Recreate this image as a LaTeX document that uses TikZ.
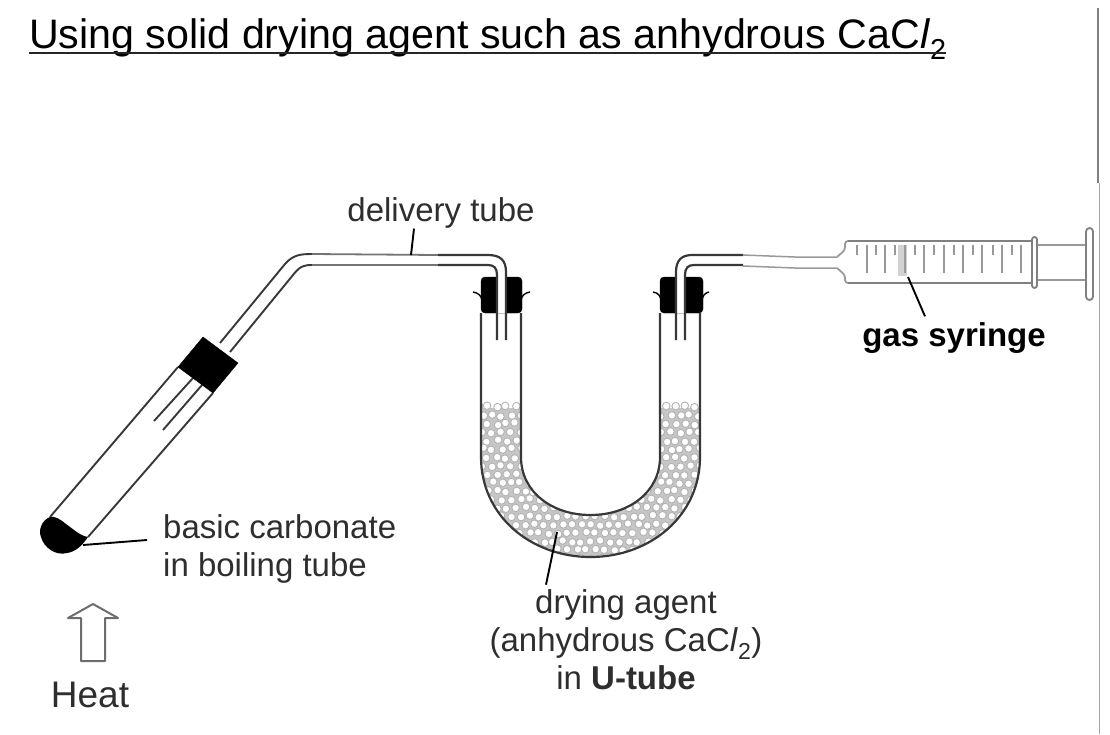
\documentclass[tikz,border=0pt]{standalone}
\usepackage{fontspec}
\setmainfont{Liberation Sans}
\definecolor{inkgray}{gray}{0.18}
\definecolor{wallgray}{gray}{0.22}
\definecolor{pale}{gray}{0.6}
\tikzset{
  glass/.style={draw=wallgray, line width=1.9pt},
  thinglass/.style={draw=pale, line width=1.5pt},
  plug/.style={fill=black, draw=black, line join=round},
  lip/.style={draw=black, line width=1.4pt},
  leader/.style={draw=black, line width=1.9pt},
  label/.style={font=\fontsize{33}{38}\selectfont, text=inkgray, inner sep=0pt, align=center},
  bead/.style={draw=gray!60, line width=0.9pt, fill=white},
}
\begin{document}
\begin{tikzpicture}[x=1pt,y=-1pt]
\useasboundingbox (0,0) rectangle (1110,734);
\node[font=\fontsize{41.2}{48}\selectfont, anchor=base west, inner sep=0pt] (title) at (29,48) {Using solid drying agent such as anhydrous CaC\textit{l}\textsubscript{2}};
\coordinate (titleL) at (29,52.5);
\coordinate (titleR) at (946,52.5);
\draw[black!85, line width=2pt] (titleL) -- (titleR);
\draw[gray, line width=2.5pt] (1098,8) -- (1098,183);
\draw[gray!70, line width=1pt] (1099,183) -- (1099,734);

% boiling tube
\draw[glass] (50,517) -- (178,367);
\draw[glass] (88,537) -- (213,393);
\draw[glass] (193,378) -- (154,421);
\draw[glass] (202,385) -- (163,430);
\fill[black] (50,517) .. controls (42,520) and (38,530) .. (41,537)
  .. controls (44,548) and (56,556) .. (67,553) .. controls (75,552) and (82,546) .. (88,537)
  .. controls (80,536) and (72,528) .. (66,524) .. controls (60,519) and (55,516) .. (50,517) -- cycle;
\fill[plug] (203,337) -- (238,363) -- (213,393) -- (178,367) -- cycle;

% delivery tube
\draw[glass] (220,343) -- (285,264) .. controls (293,255) and (300,254) .. (312,254);
\draw[glass] (230,352) -- (293,275) .. controls (300,266) and (304,265) .. (312,265);
\draw[wallgray!70!white, line width=1.8pt] (312,254) -- (438,255);
\draw[wallgray!70!white, line width=1.8pt] (312,265) -- (438,265);

% stoppers of the U-tube
\fill[plug, rounded corners=4pt] (481,277) rectangle (522,313);
\fill[plug, rounded corners=4pt] (660,277) rectangle (703,313);
\draw[lip] (473,292) .. controls (478,293) and (481,295) .. (482,300);
\draw[lip] (530,292) .. controls (525,293) and (522,295) .. (521,300);
\draw[lip] (653,292) .. controls (658,293) and (660,295) .. (661,300);
\draw[lip] (709,292) .. controls (705,293) and (703,295) .. (702,300);

% left and right ends of the delivery tube
\fill[white] (497,270) rectangle (506,313);
\fill[white] (676,270) rectangle (685,313);
\draw[glass, line width=2.2pt] (438,255) -- (488,255) .. controls (500,255) and (506,260) .. (506,272) -- (506,340);
\draw[glass, line width=2.2pt] (438,265) -- (488,265) .. controls (494,265) and (497,268) .. (497,275) -- (497,340);
\draw[glass, line width=2.2pt] (743,255) -- (692,255) .. controls (682,255) and (676,260) .. (676,272) -- (676,340);
\draw[glass, line width=2.2pt] (743,265) -- (694,265) .. controls (688,265) and (685,268) .. (685,275) -- (685,340);
\draw[thinglass] (743,255) -- (795,257) -- (837,257);
\draw[thinglass] (743,266) -- (795,268) -- (837,268);

% packing
\begin{scope}
\clip (481,398) -- (521,398) -- (521,457) .. controls (521,492) and (552,515) .. (590.5,515)
  .. controls (629,515) and (660,492) .. (660,457) -- (660,398) -- (700,398) -- (700,457)
  .. controls (700,516) and (650,557) .. (590.5,557) .. controls (531,557) and (481,516) .. (481,457) -- cycle;
\fill[gray!45] (470,408) rectangle (710,565);
\pgfmathsetseed{17}
\foreach \row in {0,...,18}{
  \foreach \col in {0,...,25}{
    \pgfmathsetmacro{\bx}{478+\col*9.4+mod(\row,2)*4.7+rand*1.3}
    \pgfmathsetmacro{\by}{407+\row*8.4+rand*1.3}
    \draw[bead] (\bx,\by) circle (3.8pt);
  }
}
\end{scope}

% U-tube
\draw[glass, line width=2.2pt] (481,313) -- (481,457) .. controls (481,516) and (531,557) .. (590.5,557)
  .. controls (650,557) and (700,516) .. (700,457) -- (700,313);
\draw[glass, line width=2.2pt] (521,313) -- (521,457) .. controls (521,492) and (552,515) .. (590.5,515)
  .. controls (629,515) and (660,492) .. (660,457) -- (660,313);

% gas syringe
\draw[pale, line width=1.8pt, rounded corners=3pt] (837,257) -- (845,250) -- (845,241) -- (1032,241);
\draw[pale, line width=1.8pt, rounded corners=3pt] (837,268) -- (845,275) -- (845,283) -- (1032,283);
\draw[gray, line width=1.4pt] (848,241) -- (1032,241);
\draw[gray, line width=1.4pt] (848,283) -- (1032,283);
\fill[gray!35] (898,245) rectangle (907,276);
\foreach \tx in {857,876,895,915,934,954,973,993,1012}{
  \draw[pale, line width=1.6pt] (\tx,245) -- (\tx,255);
}
\foreach \tx in {867,885,905,924,944,963,982,1002,1021}{
  \draw[pale, line width=1.6pt] (\tx,245) -- (\tx,273);
}
\draw[pale, line width=1.5pt] (1037,245) -- (1085,245);
\draw[pale, line width=1.5pt] (1037,280) -- (1085,280);
\draw[gray, fill=white, line width=1.8pt, rounded corners=2.5pt] (1032,237) rectangle (1037,288);
\draw[gray, fill=white, line width=1.8pt, rounded corners=3.5pt] (1086,228) rectangle (1093,300);

% labels
\node[label] (delivery) at (441,213) {delivery tube};
\node[label, align=left, anchor=west] (carbonate) at (163,549) {basic carbonate\\in boiling tube};
\node[label] (drying) at (626,640) {drying agent\\(anhydrous CaC\textit{l}\textsubscript{2})\\in \textbf{U-tube}};
\node[label, text=black, font=\fontsize{33}{38}\selectfont\bfseries] (syringe) at (954,338) {gas syringe};
\node[label, font=\fontsize{37}{44}\selectfont] (heat) at (90,695) {Heat};

% heat arrow
\draw[draw=inkgray!70, line width=2pt, line join=round] (93,604) -- (118,618) -- (105,618) -- (105,661) -- (81,661) -- (81,618) -- (68,618) -- cycle;

\coordinate (deliveryend) at (411,255);
\coordinate (carbonateend) at (83,545);
\coordinate (dryingend) at (557,532);
\coordinate (syringeend) at (908,277);
\draw[leader] (delivery.south -| 414,0) -- (deliveryend);
\draw[leader] (carbonate.west |- 0,540) ++(-16,0) -- (carbonateend);
\draw[leader] (drying.north -| 546,0) ++(0,-5) -- (dryingend);
\draw[leader] (syringe.north -| 925,0) ++(0,-6) -- (syringeend);
\end{tikzpicture}
\end{document}
